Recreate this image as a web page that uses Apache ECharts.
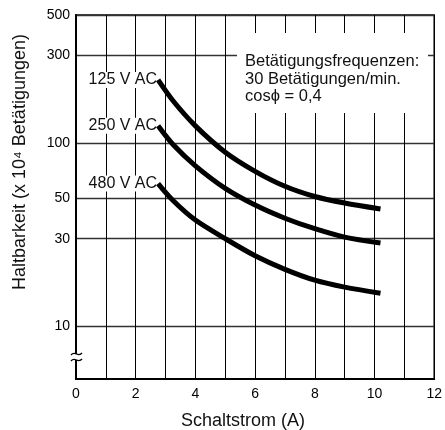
<!DOCTYPE html>
<html>
<head>
<meta charset="utf-8">
<script src="https://cdn.jsdelivr.net/npm/echarts@6/dist/echarts.min.js"></script>
<style>
  html, body { margin: 0; padding: 0; background: #fff; }
  #main { width: 445px; height: 430px; }
</style>
</head>
<body>
<div id="main"></div>
<script>
// Schaltstrom (A) / Haltbarkeit (x 10^4)
const xCurrent = [2.75, 3.25, 4, 5, 6, 7, 8, 9, 10.2];
const y125 = [221, 170, 124, 89, 70, 58, 51, 47, 43.6];
const y250 = [124, 98, 75, 56.5, 45.8, 38.8, 34, 30.6, 28.4];
const y480 = [60, 48.5, 37.9, 30, 24.2, 20.4, 17.8, 16.3, 15.1];
const seriesNames = ['125 V AC', '250 V AC', '480 V AC'];
const yTicks = [10, 30, 50, 100, 300, 500];

const font = "'Liberation Sans', Arial, sans-serif";

function curve(xs, ys, name) {
  return {
    name: name,
    type: 'line',
    smooth: 0.3,
    symbol: 'none',
    z: 10,
    lineStyle: { color: '#000', width: 5 },
    data: xs.map(function (x, i) { return [x, ys[i]]; })
  };
}

let myChart = echarts.init(document.getElementById('main'));
let staticGraphic = [
  {
    id: 'box', type: 'rect', z: 5,
    shape: { x: 237, y: 33, width: 191, height: 80 },
    style: { fill: '#fff' }
  },
  {
    id: 'note', type: 'text', z: 6, left: 245, top: 53,
    style: {
      text: 'Betätigungsfrequenzen:\n30 Betätigungen/min.\ncosϕ = 0,4',
      font: '16.5px ' + font,
      fill: '#111',
      lineHeight: 17.5
    }
  },
  {
    id: 'ytitle', type: 'text', z: 6,
    x: 20, y: 162, rotation: Math.PI / 2,
    style: {
      text: 'Haltbarkeit (x 10⁴ Betätigungen)',
      font: '18px ' + font,
      fill: '#111',
      align: 'center',
      verticalAlign: 'middle'
    }
  },
  {
    id: 'xtitle', type: 'text', z: 6,
    x: 243, y: 421,
    style: {
      text: 'Schaltstrom (A)',
      font: '18px ' + font,
      fill: '#111',
      align: 'center',
      verticalAlign: 'middle'
    }
  },
  // Achsenbruch
  {
    id: 'brk', type: 'rect', z: 6,
    shape: { x: 72, y: 354, width: 8, height: 6 },
    style: { fill: '#fff' }
  },
  {
    id: 'brk1', type: 'bezierCurve', z: 7,
    shape: { x1: 71, y1: 355, cpx1: 75, cpy1: 350, cpx2: 78, cpy2: 358, x2: 82, y2: 353 },
    style: { stroke: '#000', lineWidth: 1.3, fill: null }
  },
  {
    id: 'brk2', type: 'bezierCurve', z: 7,
    shape: { x1: 71, y1: 361, cpx1: 75, cpy1: 356, cpx2: 78, cpy2: 364, x2: 82, y2: 359 },
    style: { stroke: '#000', lineWidth: 1.3, fill: null }
  }
];

let option = {
  backgroundColor: '#fff',
  animation: false,
  grid: {
    left: 76, right: 7, top: 15, bottom: 51,
    show: true,
    borderColor: '#000',
    borderWidth: 1.5
  },
  xAxis: {
    type: 'value',
    min: 0, max: 12, interval: 1,
    axisLine: { show: true, lineStyle: { color: '#000', width: 2 } },
    axisTick: { show: false },
    axisLabel: {
      fontFamily: font, fontSize: 14, color: '#000', margin: 8,
      formatter: function (v) { return v % 2 === 0 ? String(v) : ''; }
    },
    splitLine: { show: true, lineStyle: { color: '#000', width: 1 } }
  },
  yAxis: {
    type: 'log',
    min: 5.135, max: 500,
    axisLine: { show: true, lineStyle: { color: '#000', width: 2 } },
    axisTick: { show: false, customValues: yTicks },
    axisLabel: {
      customValues: yTicks,
      fontFamily: font, fontSize: 14, color: '#000', margin: 6,
      formatter: function (v) { return String(Math.round(v)); }
    },
    splitLine: { show: true, lineStyle: { color: '#333', width: 1.3 } }
  },
  series: [
    curve(xCurrent, y125, seriesNames[0]),
    curve(xCurrent, y250, seriesNames[1]),
    curve(xCurrent, y480, seriesNames[2])
  ],
  graphic: staticGraphic
};
myChart.setOption(option);

// Kurvenbeschriftung links vom Kurvenanfang, mit weissem Hintergrund
let starts = [y125[0], y250[0], y480[0]];
let labels = [];
seriesNames.forEach(function (name, i) {
  let p = myChart.convertToPixel({ gridIndex: 0 }, [xCurrent[0], starts[i]]);
  labels.push({
    id: 'lblbg' + i, type: 'rect', z: 8,
    shape: { x: p[0] - 73, y: p[1] - 8, width: 71, height: 16 },
    style: { fill: '#fff' }
  });
  labels.push({
    id: 'lbl' + i, type: 'text', z: 9,
    x: p[0] - 1, y: p[1],
    style: {
      text: name,
      font: '16px ' + font,
      fill: '#111',
      align: 'right',
      verticalAlign: 'middle'
    }
  });
});
myChart.setOption({ graphic: staticGraphic.concat(labels) });

window.onresize = function () {
  myChart.resize();
};
</script>
</body>
</html>
